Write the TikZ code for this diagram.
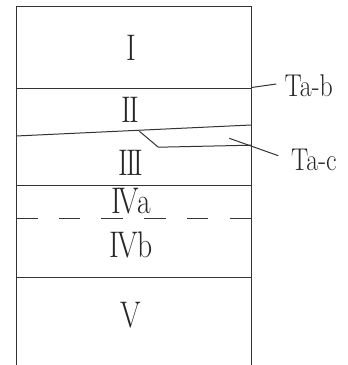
\documentclass[tikz,border=0pt]{standalone}
\usepackage{fontspec}
\begin{document}
\begin{tikzpicture}[x=1pt,y=-1pt,
  rule/.style={draw=black!80,line width=1pt},
  numeral/.style={inner sep=0pt,anchor=base,text=black!85,xscale=0.8,font=\fontsize{37}{37}\selectfont},
  tag/.style={inner sep=0pt,anchor=base west,text=black!85,xscale=0.82,font=\fontsize{31.5}{31.5}\selectfont}]
\useasboundingbox (0,0) rectangle (348,365);
% frame
\coordinate (tl) at (16.7,6);
\coordinate (tr) at (251,6);
\coordinate (bl) at (16.7,365);
\coordinate (br) at (251,365);
\draw[rule] (bl) -- (tl) -- (tr) -- (br);
% boundaries
\coordinate (b1l) at (16.7,88); \coordinate (b1r) at (251,88);
\draw[rule] (b1l) -- (b1r);
\coordinate (s1l) at (16,136); \coordinate (s1r) at (251,125);
\draw[rule] (s1l) -- (s1r);
\coordinate (p1) at (139.3,131.2); \coordinate (p2) at (158.3,147.2); \coordinate (p3) at (251,145.2);
\draw[rule] (p1) -- (p2) -- (p3);
\coordinate (b3l) at (16.7,185); \coordinate (b3r) at (251,185);
\draw[rule] (b3l) -- (b3r);
\coordinate (d1l) at (16,218); \coordinate (d1r) at (251,218);
\draw[rule,dash pattern=on 21.5pt off 21.2pt] (d1l) -- (d1r);
\coordinate (b4l) at (16.7,277); \coordinate (b4r) at (251,277);
\draw[rule] (b4l) -- (b4r);
% numerals
\node[numeral] (n1) at (131,60) {I};
\node[numeral] (n2) at (130.5,122) {I\kern-3pt I};
\node[numeral] (n3) at (131,175) {I\kern-3pt I\kern-3pt I};
\node[numeral] (n4a) at (131,213) {I\kern-2.5pt Va};
\node[numeral] (n4b) at (131,257) {I\kern-2.5pt Vb};
\node[numeral] (n5) at (131,327) {V};
% tags
\node[tag] (tab) at (284.5,96.5) {Ta-b};
\node[tag] (tac) at (291,170) {Ta-c};
\coordinate (lb1) at (251.5,87.5); \coordinate (lb2) at (276.3,84);
\draw[rule] (lb1) -- (lb2);
\coordinate (lc1) at (229.3,138.3); \coordinate (lc2) at (278.3,155.7);
\draw[rule] (lc1) -- (lc2);
\end{tikzpicture}
\end{document}
